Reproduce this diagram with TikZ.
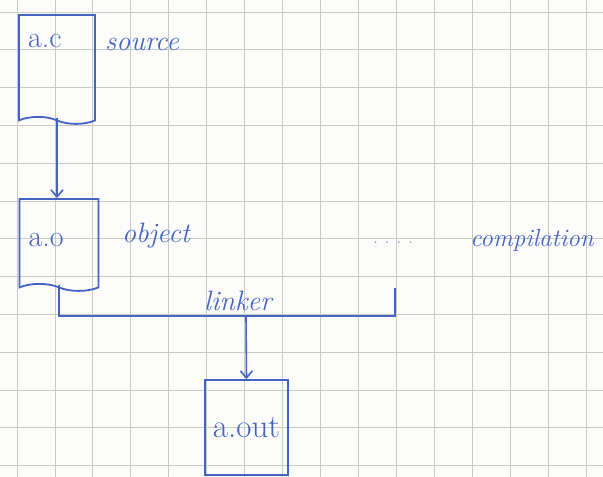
\documentclass[tikz,border=0pt]{standalone}
\usepackage{tikz}
\usetikzlibrary{positioning,arrows.meta,shapes.symbols,calc}
\definecolor{InkBlue}{HTML}{4463C4}
\definecolor{GridGray}{HTML}{C6CCC3}
\definecolor{PaperWhite}{HTML}{FCFCFA}

\begin{document}
\begin{tikzpicture}[
  x=1pt,y=-1pt,
  every node/.style={text=InkBlue,inner sep=0pt},
  gridline/.style={draw=GridGray,line width=0.9pt},
  file/.style={draw=InkBlue,line width=1.8pt,tape,tape bend top=none,tape bend bottom=out and in,
    tape bend height=7pt,inner xsep=9pt,align=left,font=\fontsize{30}{30}\selectfont},
  exebox/.style={draw=InkBlue,line width=1.8pt,minimum width=83pt,minimum height=95pt,
    font=\fontsize{33}{33}\selectfont},
  word/.style={font=\fontsize{28}{28}\itshape\selectfont},
  wire/.style={draw=InkBlue,line width=1.6pt},
  arr/.style={wire,-{Straight Barb[length=7pt,width=12pt]}}
]
  % squared paper
  \useasboundingbox[fill=PaperWhite] (0,0) rectangle (603,477);
  \foreach \i in {0,...,15}
    \draw[gridline] (17+37.95*\i,0) -- (17+37.95*\i,477);
  \foreach \j in {0,...,12}
    \draw[gridline] (0,12+37.8*\j) -- (603,12+37.8*\j);

  \node[file,text width=58pt,text height=33pt,text depth=69pt,anchor=north] (src) at (57,14) {a.c};
  \node[file,text width=61pt,text height=48pt,text depth=37pt,anchor=north] (obj) at (59,198) {a.o};
  \node[exebox] (exe) at (246.5,427.5) {a.out};

  \node[word] (srclbl) at (142,44) {source};
  \node[word] (objlbl) at (156,236) {object};
  \node[text=InkBlue!75,font=\fontsize{20}{20}\selectfont] (dots) at (393,243) {.\,\,.\,\,.\,\,.};
  \node[word,font=\fontsize{25}{25}\itshape\selectfont] (cmplbl) at (532,240) {compilation};

  \coordinate (join) at (246,316);
  \coordinate (tick) at (395,288);

  \draw[arr] (src.south) -- (src.south |- obj.north);
  \draw[wire] (obj.south) |- (tick |- join) -- (tick);
  \node[word,above=5pt of join,xshift=-8pt] (lnklbl) {linker};
  \draw[arr] (join) -- (exe.north);
\end{tikzpicture}
\end{document}
